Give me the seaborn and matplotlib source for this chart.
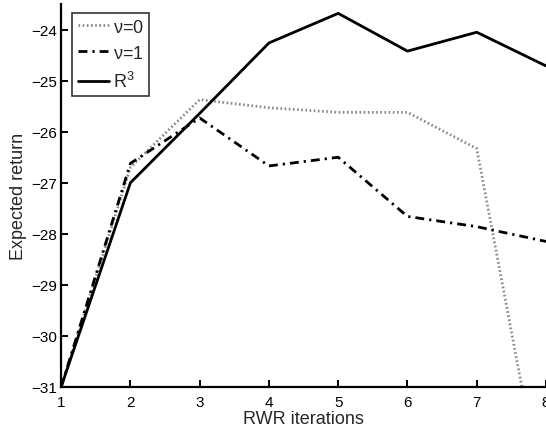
import matplotlib
matplotlib.use("Agg")
import matplotlib.pyplot as plt
import seaborn as sns
import pandas as pd

iterations = [1, 2, 3, 4, 5, 6, 7, 8]
nu0_return = [-31.0, -26.70, -25.37, -25.53, -25.62, -25.62, -26.33, -33.5]
nu1_return = [-31.0, -26.62, -25.73, -26.67, -26.50, -27.66, -27.86, -28.15]
r3_return = [-31.0, -27.00, -25.64, -24.26, -23.68, -24.42, -24.05, -24.71]

series_labels = ["\u03bd=$\\mathit{0}$", "\u03bd=$\\mathit{1}$", "R$^{\\mathit{3}}$"]
x_ticks = [1, 2, 3, 4, 5, 6, 7, 8]
y_ticks = [-31, -30, -29, -28, -27, -26, -25, -24]

sns.set_theme(style="white")
plt.rcParams["font.family"] = ["Liberation Sans", "DejaVu Sans"]
plt.rcParams["mathtext.fontset"] = "custom"
plt.rcParams["mathtext.rm"] = "Liberation Sans"
plt.rcParams["mathtext.it"] = "Liberation Sans:italic"
plt.rcParams["mathtext.sf"] = "Liberation Sans"

fig = plt.figure(figsize=(5.46, 4.31), dpi=100)
ax = fig.add_axes([0.112, 0.10, 0.888, 0.888])

df = pd.DataFrame({"it": iterations, "nu0": nu0_return, "nu1": nu1_return, "r3": r3_return})

sns.lineplot(data=df, x="it", y="nu0", ax=ax, color="#8a8a8a", linewidth=2.0,
             linestyle=(0, (0.6, 0.9)), label=series_labels[0])
sns.lineplot(data=df, x="it", y="nu1", ax=ax, color="black", linewidth=2.0,
             linestyle=(0, (3.2, 1.8, 0.8, 1.8)), label=series_labels[1])
sns.lineplot(data=df, x="it", y="r3", ax=ax, color="black", linewidth=2.0,
             linestyle="-", label=series_labels[2])

ax.set_xlim(1, 8)
ax.set_ylim(-31, -23.5)
ax.set_xticks(x_ticks)
ax.set_yticks(y_ticks)
ax.set_xticklabels([str(v) for v in x_ticks])
ax.set_yticklabels(["\u2212" + str(abs(v)) for v in y_ticks])
ax.set_xlabel("RWR iterations", fontsize=13, labelpad=1)
ax.set_ylabel("Expected return", fontsize=13, labelpad=3)

for side in ("top", "right"):
    ax.spines[side].set_visible(False)
for side in ("left", "bottom"):
    ax.spines[side].set_linewidth(1.6)
    ax.spines[side].set_color("black")
ax.tick_params(axis="both", direction="in", length=5, width=1.4, labelsize=11,
               colors="black", left=True, bottom=True)
ax.tick_params(axis="x", pad=5.5)
ax.tick_params(axis="y", pad=3)

leg = ax.legend(loc="upper left", bbox_to_anchor=(0.023, 0.976), frameon=True,
                fancybox=False, edgecolor="black", fontsize=13, handlelength=1.75,
                handletextpad=0.2, borderpad=0.3, labelspacing=0.5, borderaxespad=0)
leg.get_frame().set_linewidth(1.2)

fig.savefig("out.png", dpi=100)
